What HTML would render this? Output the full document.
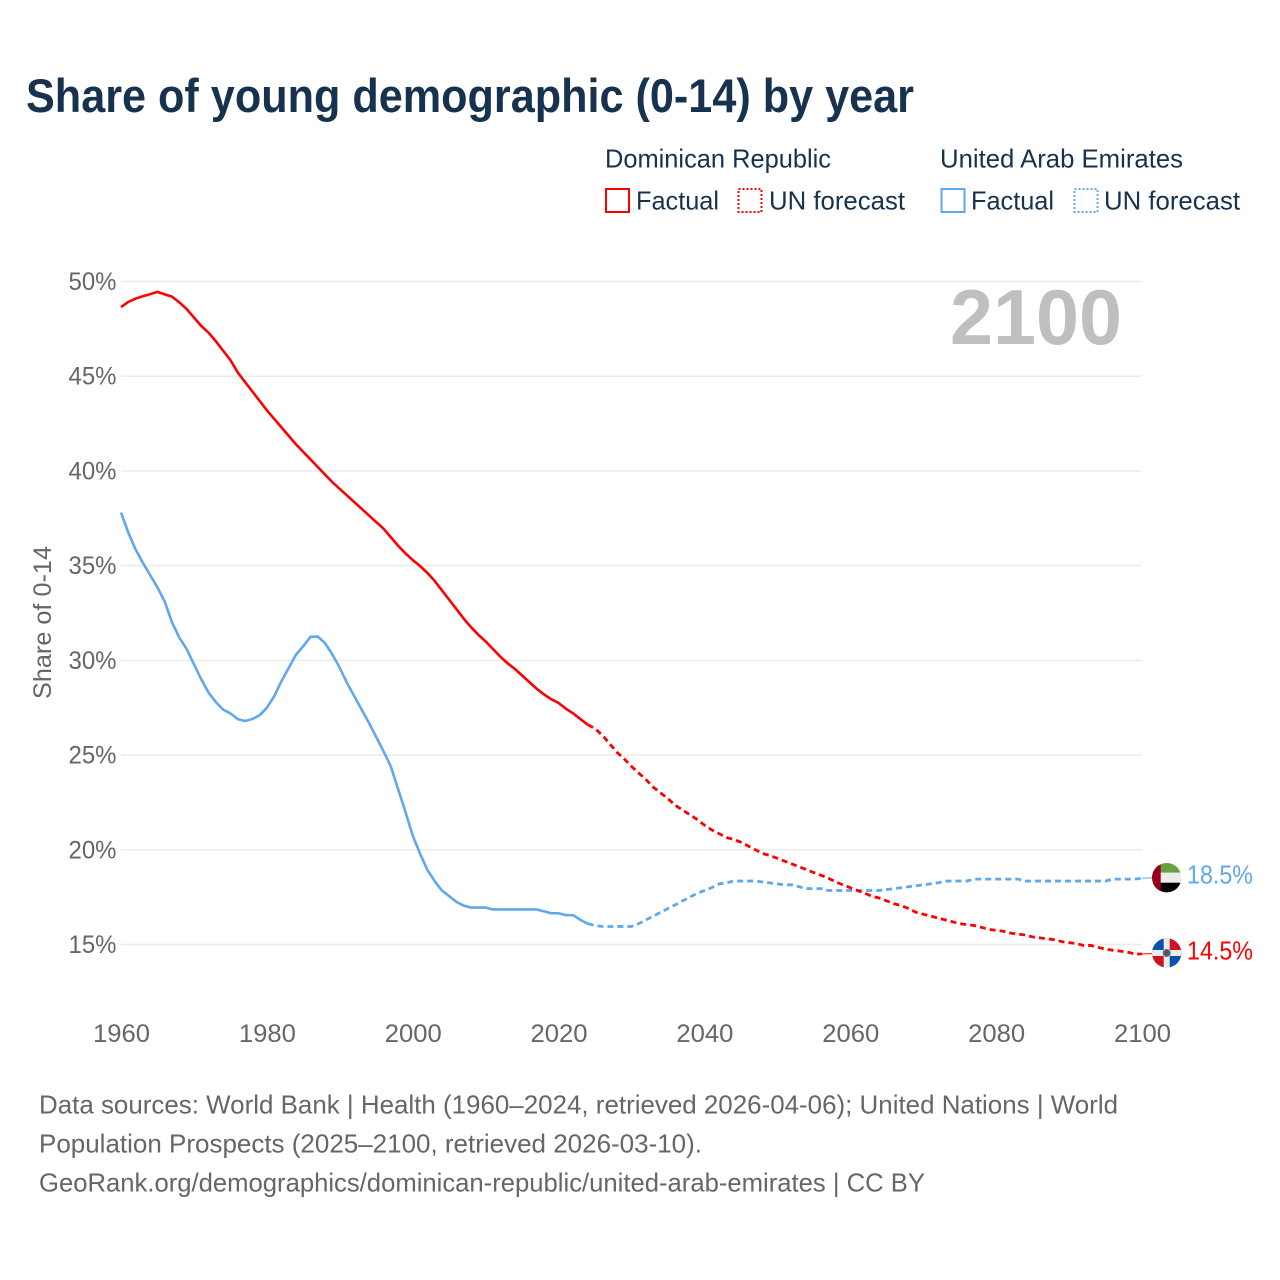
<!DOCTYPE html>
<html lang="en">
<head>
<meta charset="utf-8">
<title>Share of young demographic (0-14) by year</title>
<style>
html,body{margin:0;padding:0;background:#fff;width:1280px;height:1280px;overflow:hidden}
svg{display:block}
text{font-family:"Liberation Sans",sans-serif}
.ink{fill:#17324f}
.muted{fill:#666}
</style>
</head>
<body>
<svg id="chart" xmlns="http://www.w3.org/2000/svg" width="1280" height="1280" viewBox="0 0 1280 1280">
  <defs>
    <clipPath id="uae-clip"><circle cx="0" cy="0" r="14.7"/></clipPath>
    <clipPath id="dr-clip"><circle cx="0" cy="0" r="14.7"/></clipPath>
  </defs>
  <rect x="0" y="0" width="1280" height="1280" fill="#fff"/>

  <text class="ink" x="26" y="112" font-size="47" font-weight="700" textLength="888" lengthAdjust="spacingAndGlyphs">Share of young demographic (0-14) by year</text>

  <g>
    <text class="ink" x="605" y="167.5" font-size="26" textLength="226" lengthAdjust="spacingAndGlyphs">Dominican Republic</text>
    <text class="ink" x="940" y="167.5" font-size="26" textLength="243" lengthAdjust="spacingAndGlyphs">United Arab Emirates</text>

    <rect x="606" y="189" width="23" height="23" fill="none" stroke="#ff0000" stroke-width="2"/>
    <text class="ink" x="636" y="209.5" font-size="26" textLength="83" lengthAdjust="spacingAndGlyphs">Factual</text>
    <rect x="738.5" y="189" width="23" height="23" fill="none" stroke="#ff0000" stroke-width="2" stroke-dasharray="2,2"/>
    <text class="ink" x="769" y="209.5" font-size="26" textLength="136" lengthAdjust="spacingAndGlyphs">UN forecast</text>

    <rect x="941.5" y="189" width="23" height="23" fill="none" stroke="#5fa8ee" stroke-width="2"/>
    <text class="ink" x="971" y="209.5" font-size="26" textLength="83" lengthAdjust="spacingAndGlyphs">Factual</text>
    <rect x="1074.5" y="189" width="23" height="23" fill="none" stroke="#5fa8ee" stroke-width="2" stroke-dasharray="2,2"/>
    <text class="ink" x="1104" y="209.5" font-size="26" textLength="136" lengthAdjust="spacingAndGlyphs">UN forecast</text>
  </g>

  <g id="grid"></g>
  <g id="y-ticks"></g>
  <g id="x-ticks"></g>

  <text class="muted" transform="translate(51,699) rotate(-90)" x="0" y="0" font-size="25" textLength="153" lengthAdjust="spacingAndGlyphs">Share of 0-14</text>

  <text x="1122" y="344" text-anchor="end" font-size="78" font-weight="700" fill="#bfbfbf" textLength="172" lengthAdjust="spacingAndGlyphs">2100</text>

  <g id="series"></g>

  <g id="flag-uae">
    <g clip-path="url(#uae-clip)">
      <rect x="-15" y="-15" width="30" height="10" fill="#6a9f3f"/>
      <rect x="-15" y="-5" width="30" height="10" fill="#ececec"/>
      <rect x="-15" y="5" width="30" height="10" fill="#000"/>
      <rect x="-15" y="-15" width="9" height="30" fill="#96001c"/>
    </g>
  </g>
  <g id="flag-dr">
    <g clip-path="url(#dr-clip)">
      <rect x="-15" y="-15" width="15" height="15" fill="#0b50aa"/>
      <rect x="0" y="-15" width="15" height="15" fill="#ce1126"/>
      <rect x="-15" y="0" width="15" height="15" fill="#ce1126"/>
      <rect x="0" y="0" width="15" height="15" fill="#0b50aa"/>
      <rect x="-15" y="-3" width="30" height="6" fill="#ececec"/>
      <rect x="-3" y="-15" width="6" height="30" fill="#ececec"/>
      <circle cx="0" cy="0" r="4" fill="#3f6f8f"/>
      <circle cx="0" cy="0" r="2" fill="#a03040"/>
    </g>
  </g>

  <text id="end-label-uae" x="1187" font-size="26" fill="#5fa8ee" textLength="66" lengthAdjust="spacingAndGlyphs"></text>
  <text id="end-label-dr" x="1187" font-size="26" fill="#ff0000" textLength="66" lengthAdjust="spacingAndGlyphs"></text>

  <g>
    <text class="muted" x="39" y="1113.5" font-size="26" textLength="1079" lengthAdjust="spacingAndGlyphs">Data sources: World Bank | Health (1960–2024, retrieved 2026-04-06); United Nations | World</text>
    <text class="muted" x="39" y="1152.5" font-size="26" textLength="663" lengthAdjust="spacingAndGlyphs">Population Prospects (2025–2100, retrieved 2026-03-10).</text>
    <text class="muted" x="39" y="1191.5" font-size="26" textLength="886" lengthAdjust="spacingAndGlyphs">GeoRank.org/demographics/dominican-republic/united-arab-emirates | CC BY</text>
  </g>
</svg>
<script>
const xTickYears = [1960, 1980, 2000, 2020, 2040, 2060, 2080, 2100];
const yTickValues = [15, 20, 25, 30, 35, 40, 45, 50];

const factualYears = [1960,1961,1962,1963,1964,1965,1966,1967,1968,1969,1970,1971,1972,1973,1974,1975,1976,1977,1978,1979,1980,1981,1982,1983,1984,1985,1986,1987,1988,1989,1990,1991,1992,1993,1994,1995,1996,1997,1998,1999,2000,2001,2002,2003,2004,2005,2006,2007,2008,2009,2010,2011,2012,2013,2014,2015,2016,2017,2018,2019,2020,2021,2022,2023,2024];
const forecastYears = [2024,2025,2026,2027,2028,2029,2030,2031,2032,2033,2034,2035,2036,2037,2038,2039,2040,2041,2042,2043,2044,2045,2046,2047,2048,2049,2050,2051,2052,2053,2054,2055,2056,2057,2058,2059,2060,2061,2062,2063,2064,2065,2066,2067,2068,2069,2070,2071,2072,2073,2074,2075,2076,2077,2078,2079,2080,2081,2082,2083,2084,2085,2086,2087,2088,2089,2090,2091,2092,2093,2094,2095,2096,2097,2098,2099,2100];

const drFactual = [48.65,48.92,49.1,49.22,49.33,49.45,49.32,49.2,48.9,48.55,48.1,47.65,47.3,46.85,46.35,45.85,45.2,44.7,44.2,43.7,43.2,42.75,42.3,41.85,41.4,41.0,40.6,40.2,39.8,39.4,39.05,38.7,38.35,38.0,37.65,37.3,36.95,36.5,36.05,35.65,35.3,34.98,34.62,34.2,33.7,33.2,32.7,32.2,31.75,31.35,31.0,30.6,30.2,29.85,29.55,29.2,28.85,28.5,28.2,27.95,27.75,27.45,27.2,26.9,26.6];
const drForecast = [26.6,26.4,26.05,25.6,25.15,24.8,24.4,24.05,23.7,23.3,23.0,22.7,22.35,22.1,21.85,21.6,21.3,21.05,20.85,20.65,20.55,20.4,20.2,20.0,19.8,19.7,19.55,19.4,19.25,19.1,18.95,18.8,18.65,18.5,18.3,18.15,18.0,17.85,17.7,17.55,17.45,17.3,17.15,17.05,16.9,16.7,16.6,16.5,16.4,16.3,16.2,16.1,16.05,16.0,15.9,15.8,15.75,15.7,15.6,15.55,15.5,15.4,15.35,15.3,15.25,15.15,15.1,15.05,14.95,14.95,14.85,14.75,14.7,14.65,14.6,14.5,14.5];
const uaeFactual = [37.8,36.75,35.85,35.15,34.5,33.85,33.1,32.0,31.2,30.6,29.8,29.0,28.3,27.8,27.4,27.2,26.9,26.8,26.9,27.1,27.5,28.1,28.9,29.6,30.3,30.75,31.25,31.25,30.9,30.3,29.6,28.8,28.1,27.4,26.7,25.95,25.2,24.4,23.2,22.0,20.75,19.8,18.95,18.35,17.85,17.55,17.25,17.05,16.95,16.95,16.95,16.85,16.85,16.85,16.85,16.85,16.85,16.85,16.75,16.65,16.65,16.55,16.55,16.3,16.1];
const uaeForecast = [16.1,16.0,15.95,15.95,15.95,15.95,15.95,16.1,16.3,16.5,16.7,16.9,17.1,17.3,17.5,17.7,17.85,18.0,18.2,18.25,18.35,18.35,18.35,18.35,18.3,18.25,18.2,18.15,18.15,18.05,17.95,17.95,17.95,17.85,17.85,17.85,17.85,17.85,17.85,17.85,17.85,17.9,17.95,18.0,18.05,18.1,18.15,18.2,18.25,18.35,18.35,18.35,18.35,18.45,18.45,18.45,18.45,18.45,18.45,18.45,18.35,18.35,18.35,18.35,18.35,18.35,18.35,18.35,18.35,18.35,18.35,18.35,18.45,18.45,18.45,18.45,18.5];

const SVGNS = 'http://www.w3.org/2000/svg';
const plotLeft = 121, plotRight = 1142, plotTop = 281.5, plotBottom = 944.5;

function xScale(year) {
  return plotLeft + (year - 1960) * (plotRight - plotLeft) / (2100 - 1960);
}
function yScale(value) {
  return plotTop + (50 - value) * (plotBottom - plotTop) / (50 - 15);
}
function linePoints(years, values) {
  return years.map(function (yr, i) {
    return xScale(yr).toFixed(2) + ',' + yScale(values[i]).toFixed(2);
  }).join(' ');
}
function make(tag, parent) {
  const el = document.createElementNS(SVGNS, tag);
  parent.appendChild(el);
  return el;
}

const gridGroup = document.getElementById('grid');
const yTickGroup = document.getElementById('y-ticks');
yTickValues.forEach(function (v) {
  const gridline = make('line', gridGroup);
  
  
  gridline.setAttribute('x1', plotLeft);
  gridline.setAttribute('x2', plotRight);
  gridline.setAttribute('y1', yScale(v));
  gridline.setAttribute('y2', yScale(v));
  gridline.setAttribute('stroke', '#ebebeb');
  gridline.setAttribute('stroke-width', '1.5');

  const label = make('text', yTickGroup);
  
  
  label.setAttribute('class', 'muted');
  label.setAttribute('x', 116.5);
  label.setAttribute('y', yScale(v) + 8.5);
  label.setAttribute('text-anchor', 'end');
  label.setAttribute('font-size', '25');
  label.setAttribute('textLength', '48');
  label.setAttribute('lengthAdjust', 'spacingAndGlyphs');
  label.textContent = v + '%';
});

const xTickGroup = document.getElementById('x-ticks');
xTickYears.forEach(function (yr) {
  const label = make('text', xTickGroup);
  
  
  label.setAttribute('class', 'muted');
  label.setAttribute('x', xScale(yr) + 0.5);
  label.setAttribute('y', 1042);
  label.setAttribute('text-anchor', 'middle');
  label.setAttribute('font-size', '25');
  label.setAttribute('textLength', '57');
  label.setAttribute('lengthAdjust', 'spacingAndGlyphs');
  label.textContent = yr;
});

const seriesGroup = document.getElementById('series');
const RED = '#ff0000';
const BLUE = '#5fa8ee';

const uaeFactualLine = make('polyline', seriesGroup);


uaeFactualLine.setAttribute('points', linePoints(factualYears, uaeFactual));
uaeFactualLine.setAttribute('fill', 'none');
uaeFactualLine.setAttribute('stroke', BLUE);
uaeFactualLine.setAttribute('stroke-width', '2.6');

const uaeForecastLine = make('polyline', seriesGroup);


uaeForecastLine.setAttribute('points', linePoints(forecastYears, uaeForecast));
uaeForecastLine.setAttribute('fill', 'none');
uaeForecastLine.setAttribute('stroke', BLUE);
uaeForecastLine.setAttribute('stroke-width', '2.8');
uaeForecastLine.setAttribute('stroke-dasharray', '6,4');

const drFactualLine = make('polyline', seriesGroup);


drFactualLine.setAttribute('points', linePoints(factualYears, drFactual));
drFactualLine.setAttribute('fill', 'none');
drFactualLine.setAttribute('stroke', RED);
drFactualLine.setAttribute('stroke-width', '2.6');

const drForecastLine = make('polyline', seriesGroup);


drForecastLine.setAttribute('points', linePoints(forecastYears, drForecast));
drForecastLine.setAttribute('fill', 'none');
drForecastLine.setAttribute('stroke', RED);
drForecastLine.setAttribute('stroke-width', '2.8');
drForecastLine.setAttribute('stroke-dasharray', '6,4');

const uaeLast = uaeForecast[uaeForecast.length - 1];
const drLast = drForecast[drForecast.length - 1];

const uaeConnector = make('line', seriesGroup);


uaeConnector.setAttribute('x1', xScale(2100));
uaeConnector.setAttribute('x2', xScale(2100) + 11);
uaeConnector.setAttribute('y1', yScale(uaeLast));
uaeConnector.setAttribute('y2', yScale(uaeLast) - 0.4);
uaeConnector.setAttribute('stroke', BLUE);
uaeConnector.setAttribute('stroke-width', '1');

const drConnector = make('line', seriesGroup);


drConnector.setAttribute('x1', xScale(2100));
drConnector.setAttribute('x2', xScale(2100) + 11);
drConnector.setAttribute('y1', yScale(drLast));
drConnector.setAttribute('y2', yScale(drLast) - 0.4);
drConnector.setAttribute('stroke', RED);
drConnector.setAttribute('stroke-width', '1');

document.getElementById('flag-uae').setAttribute('transform', 'translate(1166.7,' + (yScale(uaeLast) - 0.5) + ')');
document.getElementById('flag-dr').setAttribute('transform', 'translate(1166.7,' + (yScale(drLast) - 1) + ')');

const uaeEndLabel = document.getElementById('end-label-uae');
uaeEndLabel.setAttribute('y', yScale(uaeLast) + 5.5);
uaeEndLabel.textContent = uaeLast.toFixed(1) + '%';

const drEndLabel = document.getElementById('end-label-dr');
drEndLabel.setAttribute('y', yScale(drLast) + 5.5);
drEndLabel.textContent = drLast.toFixed(1) + '%';
</script>
</body>
</html>
